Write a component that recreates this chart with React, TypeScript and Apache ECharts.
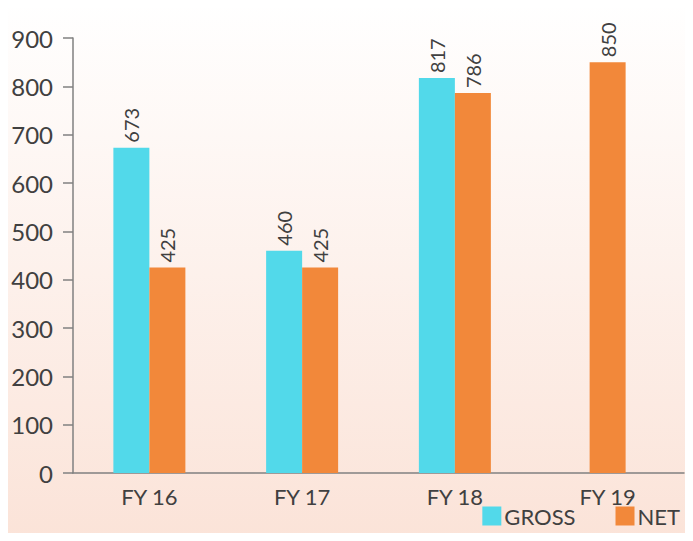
import React, { useEffect, useRef } from "react";
import * as echarts from "echarts";

const categories = ["FY 16", "FY 17", "FY 18", "FY 19"];
const grossValues = [673, 460, 817, null];
const netValues = [425, 425, 786, null];
const netSoloValues = [null, null, null, 850];
const yTicks = { min: 0, max: 900, interval: 100 };

const CYAN = "#52d9ea";
const ORANGE = "#f2883a";
const TEXT = "#404040";
const FONT = "Lato, 'Liberation Sans', sans-serif";

export default function App() {
  const ref = useRef<HTMLDivElement>(null);
  useEffect(() => {
    if (!ref.current) return;
    const chart = echarts.init(ref.current, undefined, { renderer: "svg" });
    const label = {
      show: true,
      position: "top",
      rotate: 90,
      distance: 5,
      color: TEXT,
      fontSize: 20,
      fontFamily: FONT,
      align: "left",
      verticalAlign: "middle",
    };
    const xBase = {
      type: "category",
      data: categories,
      axisLine: { lineStyle: { color: "#808080", width: 1.5 } },
      axisTick: { length: 10, lineStyle: { color: "#808080", width: 1.5 } },
      axisLabel: { color: TEXT, fontSize: 22, fontFamily: FONT, margin: 12 },
    };
    chart.setOption({
      animation: false,
      backgroundColor: {
        type: "linear",
        x: 0,
        y: 0,
        x2: 0,
        y2: 1,
        colorStops: [
          { offset: 0, color: "#ffffff" },
          { offset: 1, color: "#fbe3d8" },
        ],
      },
      grid: { left: 73, right: 9, top: 38, bottom: 68, containLabel: false },
      legend: {
        right: 8,
        bottom: 9,
        itemWidth: 19,
        itemHeight: 19,
        itemGap: 40,
        icon: "rect",
        textStyle: { color: TEXT, fontSize: 22, fontFamily: FONT, padding: [0, 0, 0, -2] },
        data: [
          { name: "GROSS", itemStyle: { color: CYAN } },
          { name: "NET", itemStyle: { color: ORANGE } },
        ],
      },
      xAxis: [
        xBase,
        { ...xBase, show: false },
      ],
      yAxis: {
        type: "value",
        min: yTicks.min,
        max: yTicks.max,
        interval: yTicks.interval,
        splitLine: { show: false },
        axisLine: { show: true, lineStyle: { color: "#808080", width: 1.5 } },
        axisTick: { show: true, length: 10, lineStyle: { color: "#808080", width: 1.5 } },
        axisLabel: { color: TEXT, fontSize: 24, fontFamily: FONT, margin: 20 },
      },
      series: [
        {
          name: "GROSS",
          type: "bar",
          data: grossValues,
          barWidth: 36,
          barGap: "0%",
          itemStyle: { color: CYAN },
          label,
        },
        {
          name: "NET",
          type: "bar",
          data: netValues,
          barWidth: 36,
          barGap: "0%",
          itemStyle: { color: ORANGE },
          label,
        },
        {
          name: "NET",
          type: "bar",
          xAxisIndex: 1,
          data: netSoloValues,
          barWidth: 36,
          itemStyle: { color: ORANGE },
          label,
        },
      ],
    });
    return () => chart.dispose();
  }, []);
  return <div ref={ref} style={{ width: 693, height: 541, margin: -8 }} />;
}
